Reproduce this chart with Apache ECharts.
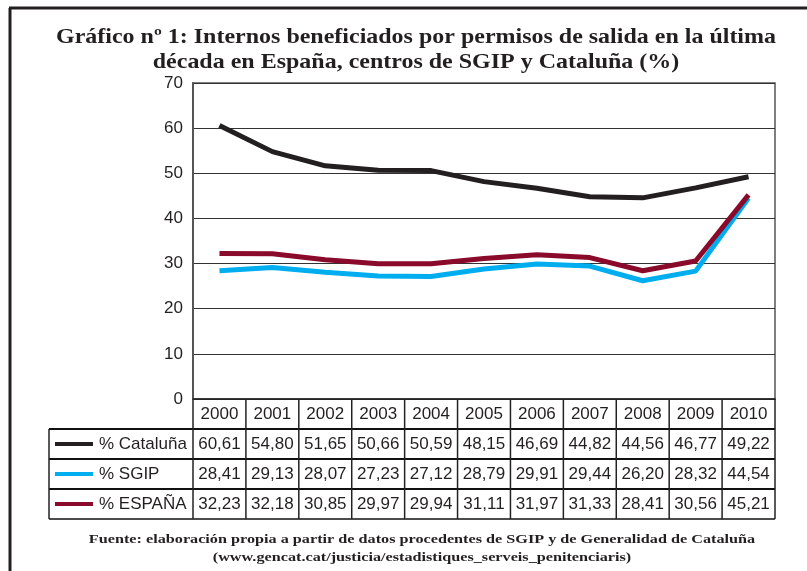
<!DOCTYPE html>
<html><head><meta charset="utf-8">
<script src="https://cdn.jsdelivr.net/npm/echarts@6/dist/echarts.min.js"></script>
<style>html,body{margin:0;padding:0;background:#fff}#c{width:807px;height:571px}</style>
</head><body><div id="c"></div>
<script>
const years = ['2000','2001','2002','2003','2004','2005','2006','2007','2008','2009','2010'];
const cataluna = [60.61,54.80,51.65,50.66,50.59,48.15,46.69,44.82,44.56,46.77,49.22];
const sgip = [28.41,29.13,28.07,27.23,27.12,28.79,29.91,29.44,26.20,28.32,44.54];
const espana = [32.23,32.18,30.85,29.97,29.94,31.11,31.97,31.33,28.41,30.56,45.21];
const seriesNames = ['% Cataluña','% SGIP','% ESPAÑA'];
const colors = ['#231f20','#00aeef','#8a0a2c'];
const yTicks = [0,10,20,30,40,50,60,70];
const titleLines = ['Gráfico nº 1: Internos beneficiados por permisos de salida en la última','década en España, centros de SGIP y Cataluña (%)'];
const sourceLines = ['Fuente: elaboración propia a partir de datos procedentes de SGIP y de Generalidad de Cataluña','(www.gencat.cat/justicia/estadistiques_serveis_penitenciaris)'];

const SANS = '"Liberation Sans", Arial, sans-serif';
const SERIF = '"Liberation Serif", "Times New Roman", serif';
const chart = echarts.init(document.getElementById('c'), null, {renderer:'canvas'});
const fmt = v => v.toFixed(2).replace('.', ',');

chart.setOption({
  animation:false,
  backgroundColor:'#fff',
  grid:{left:193, right:32, top:83, bottom:172, show:true, borderColor:'#555', borderWidth:1.5, backgroundColor:'transparent'},
  xAxis:{type:'category', data:years, boundaryGap:true,
    axisLine:{lineStyle:{color:'#222', width:1.5}}, axisTick:{show:false},
    axisLabel:{margin:7, fontSize:17, fontFamily:SANS, color:'#231f20'}},
  yAxis:{type:'value', min:yTicks[0], max:yTicks[yTicks.length-1], interval:10,
    axisLine:{show:true, lineStyle:{color:'#555', width:2}}, axisTick:{show:false},
    axisLabel:{margin:10, fontSize:17, fontFamily:SANS, color:'#231f20'},
    splitLine:{lineStyle:{color:'#333', width:1.2}}},
  series:[
    {name:seriesNames[0], type:'line', data:cataluna, symbol:'none', lineStyle:{width:5, color:colors[0]}, itemStyle:{color:colors[0]}},
    {name:seriesNames[1], type:'line', data:sgip, symbol:'none', lineStyle:{width:5, color:colors[1]}, itemStyle:{color:colors[1]}},
    {name:seriesNames[2], type:'line', data:espana, symbol:'none', lineStyle:{width:5, color:colors[2]}, itemStyle:{color:colors[2]}}
  ]
});

const xs = years.map((y,i)=>chart.convertToPixel({xAxisIndex:0}, i));
const band = xs[1]-xs[0];
const y0 = chart.convertToPixel({yAxisIndex:0}, 0);
const rowH = 30, labelLeft = 49;
const xLeft = xs[0]-band/2, xRight = xs[xs.length-1]+band/2;
const els = [];
titleLines.forEach((t,i)=>{
  els.push({type:'text', x:416, y:37+i*25, scaleX:1.09,
    style:{text:t, fontFamily:SERIF, fontWeight:'bold', fontSize:22, fill:'#231f20', textAlign:'center', textVerticalAlign:'middle'}});
});
sourceLines.forEach((t,i)=>{
  els.push({type:'text', x:422, y:540+i*18, scaleX:1.2,
    style:{text:t, fontFamily:SERIF, fontWeight:'bold', fontSize:13.5, fill:'#231f20', textAlign:'center', textVerticalAlign:'middle'}});
});
els.push({type:'line', shape:{x1:9, y1:8, x2:807, y2:8}, style:{stroke:'#231f20', lineWidth:3}});
els.push({type:'line', shape:{x1:10, y1:8, x2:10, y2:571}, style:{stroke:'#231f20', lineWidth:3}});
for (let r=1;r<=4;r++){
  els.push({type:'line', shape:{x1:labelLeft, y1:y0+r*rowH, x2:xRight, y2:y0+r*rowH}, style:{stroke:'#111', lineWidth:r===4?1.5:2}});
}
for (let i=0;i<=years.length;i++){
  const x = xLeft + i*band;
  els.push({type:'line', shape:{x1:x, y1:y0, x2:x, y2:y0+4*rowH}, style:{stroke:'#222', lineWidth:1.5}});
}
els.push({type:'line', shape:{x1:labelLeft, y1:y0+rowH, x2:labelLeft, y2:y0+4*rowH}, style:{stroke:'#222', lineWidth:1.5}});
const rows = [cataluna, sgip, espana];
rows.forEach((arr, r)=>{
  const cy = y0 + (r+1)*rowH + rowH/2;
  els.push({type:'line', shape:{x1:55, y1:cy, x2:93, y2:cy}, style:{stroke:colors[r], lineWidth:4}});
  els.push({type:'text', x:99, y:cy, style:{text:seriesNames[r], fontSize:17, fontFamily:SANS, fill:'#231f20', textAlign:'left', textVerticalAlign:'middle'}});
  arr.forEach((v,i)=>{
    els.push({type:'text', x:xs[i], y:cy, style:{text:fmt(v), fontSize:17, fontFamily:SANS, fill:'#231f20', textAlign:'center', textVerticalAlign:'middle'}});
  });
});
chart.setOption({graphic:{elements:els}});
</script></body></html>
